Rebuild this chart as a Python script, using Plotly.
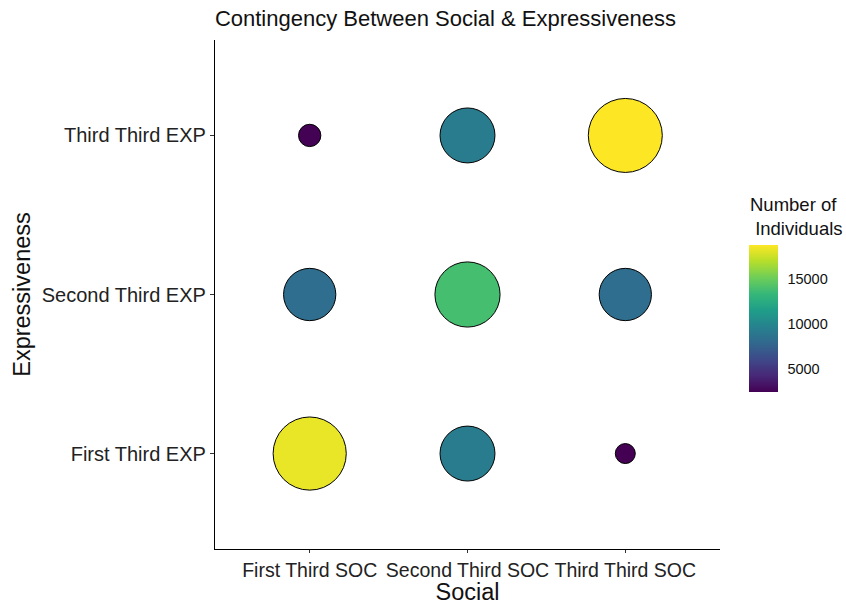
import numpy as np
import plotly.graph_objects as go

social = ["First Third SOC", "Second Third SOC", "Third Third SOC"]
expressiveness = ["First Third EXP", "Second Third EXP", "Third Third EXP"]

# counts per social level, ordered by expressiveness level
counts_first_soc = [18300, 8300, 2480]
counts_second_soc = [9300, 13900, 9300]
counts_third_soc = [2450, 8300, 18800]

colorbar_ticks = [5000, 10000, 15000]

rows = [counts_first_soc, counts_second_soc, counts_third_soc]
xs, ys, vals = [], [], []
for i, s in enumerate(social):
    for j, e in enumerate(expressiveness):
        xs.append(s)
        ys.append(e)
        vals.append(rows[i][j])

vals_arr = np.array(vals, dtype=float)
vmin, vmax = vals_arr.min(), vals_arr.max()
dmin, dmax = 20, 74
sizes = dmin + (dmax - dmin) * np.sqrt((vals_arr - vmin) / (vmax - vmin))

fig = go.Figure(go.Scatter(
    x=xs, y=ys, mode="markers",
    marker=dict(
        size=sizes, sizemode="diameter",
        color=vals, colorscale="Viridis", cmin=vmin, cmax=vmax,
        opacity=1,
        line=dict(color="black", width=1),
        colorbar=dict(
            thickness=29, thicknessmode="pixels",
            len=147, lenmode="pixels",
            x=1.057, xanchor="left", xpad=0,
            y=0.308, yanchor="bottom", ypad=0,
            outlinewidth=0,
            tickvals=colorbar_ticks, tickformat="d",
            ticks="outside", ticklen=7, tickcolor="rgba(0,0,0,0)",
            tickfont=dict(size=14.5, color="#111"),
        ),
    ),
    hoverinfo="skip",
))

fig.add_annotation(
    text="Number of<br> Individuals", showarrow=False,
    xref="paper", yref="paper", x=1.055, y=0.605,
    xanchor="left", yanchor="bottom", align="left",
    font=dict(size=18.5, color="#111"),
)

fig.update_layout(
    width=846, height=605,
    margin=dict(l=215, r=126, t=40, b=56),
    paper_bgcolor="white", plot_bgcolor="white",
    font=dict(family="Liberation Sans, Arial, sans-serif", color="#111"),
    title=dict(text="Contingency Between Social & Expressiveness",
               x=0.254, xanchor="left", y=0.97, yanchor="middle",
               font=dict(size=22, color="#111")),
    showlegend=False,
)
fig.update_xaxes(
    type="category", categoryorder="array", categoryarray=social,
    range=[-0.6, 2.6], showgrid=False, zeroline=False,
    showline=True, linecolor="black", linewidth=1.2,
    ticks="outside", ticklen=3, tickcolor="#333", tickangle=0,
    tickfont=dict(size=19.5, color="#222"),
    title=dict(text="Social", font=dict(size=23.5, color="#111"), standoff=4),
    automargin=False,
)
fig.update_yaxes(
    type="category", categoryorder="array", categoryarray=expressiveness,
    range=[-0.6, 2.6], showgrid=False, zeroline=False,
    showline=True, linecolor="black", linewidth=1.2,
    ticks="outside", ticklen=4, tickcolor="#333",
    tickfont=dict(size=20, color="#222"),
    title=dict(text="Expressiveness", font=dict(size=23.5, color="#111"), standoff=4),
    automargin=False,
)

fig.write_html("out.html", config={"displayModeBar": False},
               post_script="document.body.style.margin='0';")
